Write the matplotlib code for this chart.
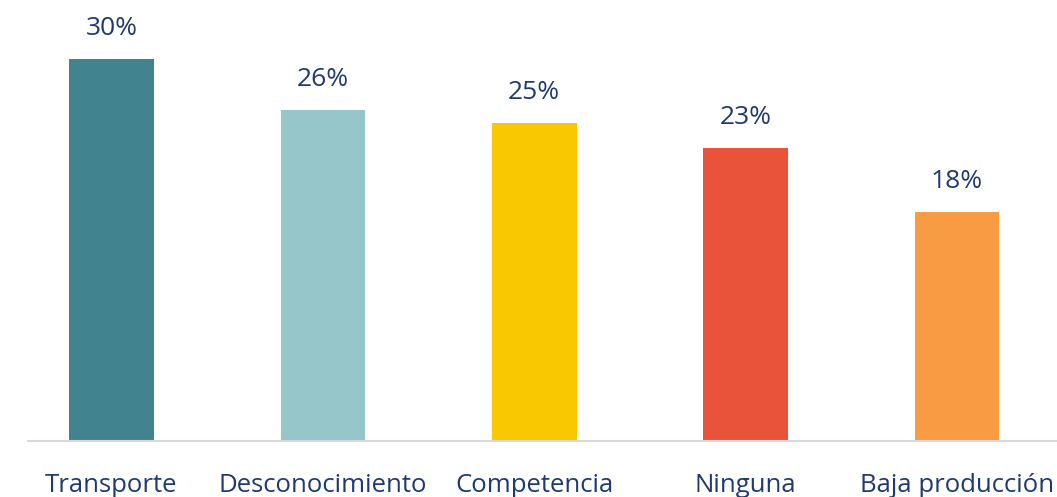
from matplotlib import pyplot as plt

categories = ["Transporte", "Desconocimiento", "Competencia", "Ninguna", "Baja producción"]
values = [30, 26, 25, 23, 18]
colors = ["#41848F", "#96C6CA", "#F9C800", "#E9533A", "#F89B42"]

plt.rcParams['font.family'] = ['Open Sans', 'DejaVu Sans']
text_color = "#1F3A70"

fig = plt.figure(figsize=(10.57, 4.97), dpi=100)
ax = fig.add_axes([28 / 1057, 56 / 497, 1 - 28 / 1057, 441 / 497])

x = list(range(len(categories)))
bars = ax.bar(x, values, width=0.4, color=colors)

for xi, v in zip(x, values):
    ax.annotate(f"{v}%", (xi, v), xytext=(0, 22), textcoords="offset points",
                ha="center", va="center", fontsize=19, color=text_color)

ax.set_xlim(-0.395, 4.473)
ax.set_ylim(0, 34.67)
ax.set_xticks(x)
ax.set_xticklabels(categories, fontsize=18.5, color=text_color)
ax.tick_params(axis="x", length=0, pad=23)
ax.set_yticks([])
for side in ["top", "right", "left"]:
    ax.spines[side].set_visible(False)
ax.spines["bottom"].set_color("#D9D9D9")
ax.spines["bottom"].set_linewidth(1.5)

fig.savefig("out.png", dpi=100)
